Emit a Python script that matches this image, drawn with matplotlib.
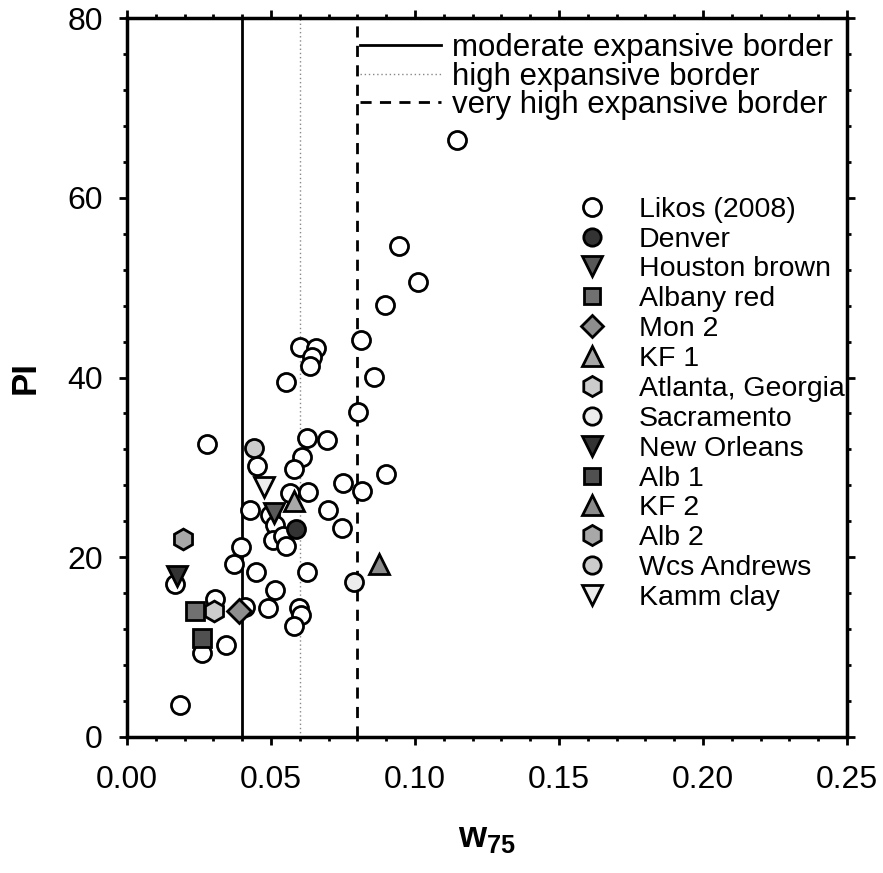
import matplotlib
matplotlib.use("Agg")
import matplotlib.pyplot as plt
from matplotlib.lines import Line2D
from matplotlib.ticker import MultipleLocator

plt.rcParams['font.family'] = ['Liberation Sans', 'DejaVu Sans']
plt.rcParams['mathtext.fontset'] = 'custom'
plt.rcParams['mathtext.rm'] = 'Liberation Sans'
plt.rcParams['mathtext.bf'] = 'Liberation Sans:bold'

# Likos (2008) data
likos_w75 = [0.1146, 0.0946, 0.1009, 0.0896, 0.0811, 0.0601, 0.0655, 0.0641, 0.0635,
             0.0858, 0.0552, 0.0803, 0.0279, 0.0626, 0.0693, 0.0450, 0.0607, 0.0580,
             0.0898, 0.0749, 0.0815, 0.0566, 0.0630, 0.0427, 0.0699, 0.0497, 0.0745,
             0.0514, 0.0508, 0.0540, 0.0552, 0.0395, 0.0370, 0.0448, 0.0624, 0.0167,
             0.0514, 0.0304, 0.0410, 0.0491, 0.0596, 0.0603, 0.0579, 0.0260, 0.0343,
             0.0184]
likos_pi = [66.4, 54.6, 50.6, 48.1, 44.2, 43.4, 43.3, 42.3, 41.3,
            40.1, 39.5, 36.2, 32.6, 33.3, 33.1, 30.2, 31.1, 29.8,
            29.3, 28.3, 27.4, 27.2, 27.3, 25.3, 25.3, 24.7, 23.3,
            23.6, 21.9, 22.4, 21.3, 21.1, 19.2, 18.4, 18.4, 17.0,
            16.4, 15.4, 14.5, 14.3, 14.3, 13.6, 12.3, 9.3, 10.2,
            3.6]

# individual soils
soil_names = ["Denver", "Houston brown", "Albany red", "Mon 2", "KF 1",
              "Atlanta, Georgia", "Sacramento", "New Orleans", "Alb 1", "KF 2",
              "Alb 2", "Wcs Andrews", "Kamm clay"]
soil_w75 = [0.0588, 0.0511, 0.0235, 0.0390, 0.0581, 0.0303, 0.0788, 0.0173,
            0.0260, 0.0875, 0.0196, 0.0441, 0.0477]
soil_pi = [23.1, 24.9, 14.0, 14.0, 26.3, 14.0, 17.2, 17.9, 11.0, 19.3, 22.0, 32.2, 27.8]
soil_markers = ["o", "v", "s", "D", "^", "h", "o", "v", "s", "^", "h", "o", "v"]
soil_colors = ["#333333", "#585858", "#707070", "#8e8e8e", "#a8a8a8", "#cccccc",
               "#ececec", "#333333", "#505050", "#8c8c8c", "#a8a8a8", "#cccccc",
               "#ececec"]

# expansive borders
border_labels = ["moderate expansive border", "high expansive border",
                 "very high expansive border"]
border_w75 = [0.04, 0.06, 0.08]

marker_size = {"o": 13, "v": 15, "^": 15, "s": 12.5, "D": 12, "h": 15}

fig = plt.figure(figsize=(8.83, 8.73), dpi=100)
ax = fig.add_axes([127/883, 1-737/873, 720/883, 719/873])

mew = 2.0
ax.plot(likos_w75, likos_pi, linestyle='none', marker='o', ms=marker_size['o'],
        mfc='white', mec='black', mew=mew, zorder=3)
for x, y, m, c in zip(soil_w75, soil_pi, soil_markers, soil_colors):
    ax.plot([x], [y], linestyle='none', marker=m, ms=marker_size[m],
            mfc=c, mec='black', mew=mew, zorder=4)

ls_list = ['-', (0, (1, 2)), (0, (4, 3))]
lw_list = [2.0, 1.0, 2.0]
col_list = ['black', '#888888', 'black']
line_handles = []
for bx, lab, ls, lw, c in zip(border_w75, border_labels, ls_list, lw_list, col_list):
    ax.axvline(bx, color=c, linestyle=ls, linewidth=lw, zorder=2)
    line_handles.append(Line2D([], [], color=c, linestyle=ls, linewidth=lw))

ax.set_xlim(0, 0.25)
ax.set_ylim(0, 80)
ax.xaxis.set_minor_locator(MultipleLocator(0.01))
ax.yaxis.set_major_locator(MultipleLocator(20))
ax.yaxis.set_minor_locator(MultipleLocator(4))
ax.set_xticks([0, 0.05, 0.10, 0.15, 0.20, 0.25])
ax.set_xticklabels(["0.00", "0.05", "0.10", "0.15", "0.20", "0.25"])
ax.tick_params(which='both', direction='out', top=True, right=True, width=2,
               labelsize=23)
ax.tick_params(which='major', length=6)
ax.tick_params(axis='x', which='major', pad=14)
ax.tick_params(axis='y', which='major', pad=11.5)
ax.tick_params(which='minor', length=3)
for s in ax.spines.values():
    s.set_linewidth(2.5)

ax.set_ylabel("PI", fontsize=25, fontweight='bold', labelpad=18)
ax.set_xlabel(r"$\mathbf{w_{75}}$", fontsize=26, labelpad=18)

leg1 = ax.legend(line_handles, border_labels, loc='upper left',
                 bbox_to_anchor=(0.323, 0.9786), frameon=False, fontsize=22.5,
                 handlelength=2.6, handletextpad=0.35, labelspacing=-0.06,
                 borderpad=0, borderaxespad=0)
ax.add_artist(leg1)

mk_handles = [Line2D([], [], linestyle='none', marker='o', ms=marker_size['o'],
                     mfc='white', mec='black', mew=mew)]
for m, c in zip(soil_markers, soil_colors):
    mk_handles.append(Line2D([], [], linestyle='none', marker=m,
                             ms=marker_size[m] - 0.5, mfc=c, mec='black', mew=mew))
ax.legend(mk_handles, ["Likos (2008)"] + soil_names, loc='upper left',
          bbox_to_anchor=(0.6056, 0.7515), frameon=False, fontsize=20.5,
          handlelength=2.05, handletextpad=0.62, labelspacing=0.136,
          borderpad=0, borderaxespad=0)

fig.savefig("out.png", dpi=100)
